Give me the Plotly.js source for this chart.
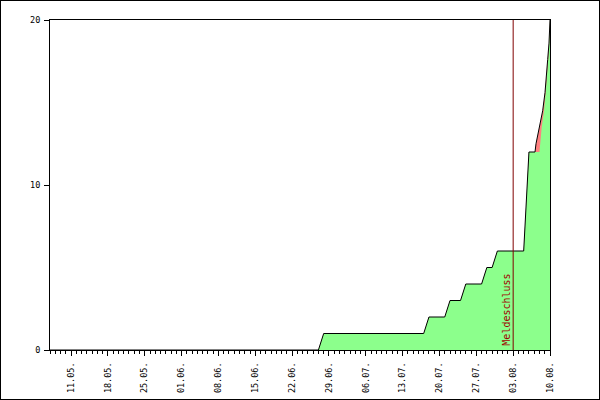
<!DOCTYPE html>
<html>
<head>
<meta charset="utf-8">
<script src="https://cdn.plot.ly/plotly-3.0.1.min.js"></script>
<style>
  html, body { margin: 0; padding: 0; background: #fff; }
  #chart { width: 600px; height: 400px; box-sizing: border-box; border: 1px solid #000; }
</style>
</head>
<body>
<div id="chart"></div>
<script>
// Registrations (cumulative) - total (incl. unpaid) and green subset
const greenDates = [
  '2024-05-07', '2024-06-27', '2024-06-28', '2024-07-17', '2024-07-18',
  '2024-07-21', '2024-07-22', '2024-07-24', '2024-07-25', '2024-07-28',
  '2024-07-29', '2024-07-30', '2024-07-31', '2024-08-05', '2024-08-06',
  '2024-08-08 00:00', '2024-08-08 10:05', '2024-08-08 20:38', '2024-08-09 04:19',
  '2024-08-09 11:17', '2024-08-09 15:50', '2024-08-09 20:24', '2024-08-09 23:02',
  '2024-08-10 00:00'
];
const greenValues = [
  0, 0, 1, 1, 2,
  2, 3, 3, 4, 4,
  5, 5, 6, 6, 12,
  12, 13.5, 14.5, 15.6,
  16.6, 17.6, 18.6, 19.6,
  20
];
const totalDates = [
  '2024-05-07', '2024-06-27', '2024-06-28', '2024-07-17', '2024-07-18',
  '2024-07-21', '2024-07-22', '2024-07-24', '2024-07-25', '2024-07-28',
  '2024-07-29', '2024-07-30', '2024-07-31', '2024-08-05', '2024-08-06',
  '2024-08-07 03:36', '2024-08-07 08:10', '2024-08-07 23:17', '2024-08-08 14:38',
  '2024-08-09 01:12', '2024-08-09 08:53', '2024-08-09 13:26', '2024-08-09 19:26',
  '2024-08-09 22:34', '2024-08-10 00:00'
];
const totalValues = [
  0, 0, 1, 1, 2,
  2, 3, 3, 4, 4,
  5, 5, 6, 6, 12,
  12, 12.5, 13.5, 14.5,
  15.6, 16.6, 17.6, 18.6,
  19.6, 20
];
const deadlineDate = '2024-08-03';
const deadlineLabel = 'Meldeschluss';
const xRange = ['2024-05-07', '2024-08-10'];
const firstTick = '2024-05-11';
const yTicks = [0, 10, 20];

const mono = 'DejaVu Sans Mono, monospace';
const DAY = 86400000;

const traces = [
  { x: totalDates, y: totalValues, type: 'scatter', mode: 'lines',
    fill: 'tozeroy', fillcolor: '#ff8080', line: { width: 0 }, hoverinfo: 'skip' },
  { x: greenDates, y: greenValues, type: 'scatter', mode: 'lines',
    fill: 'tozeroy', fillcolor: '#8cff8c', line: { width: 0 }, hoverinfo: 'skip' },
  { x: totalDates, y: totalValues, type: 'scatter', mode: 'lines',
    line: { color: '#000', width: 1 }, hoverinfo: 'skip' }
];

const layout = {
  width: 598, height: 398,
  margin: { l: 49, r: 49, t: 19, b: 49, pad: 0 },
  paper_bgcolor: '#fff', plot_bgcolor: '#fff',
  showlegend: false,
  font: { family: mono, size: 8, color: '#000' },
  xaxis: {
    type: 'date', range: xRange,
    tick0: firstTick, dtick: 7 * DAY, tickformat: '%d.%m.',
    tickangle: -90, ticks: 'outside', ticklen: 5, tickcolor: '#000', tickwidth: 1,
    ticklabelstandoff: 3,
    minor: { ticks: 'outside', ticklen: 3, dtick: DAY, tick0: xRange[0], tickcolor: '#000', showgrid: false },
    showgrid: false, zeroline: false,
    showline: true, linecolor: '#000', linewidth: 1, mirror: true,
    tickfont: { family: mono, size: 8.5, color: '#000' }
  },
  yaxis: {
    range: [0, 20], tickvals: yTicks, ticktext: yTicks.map(String),
    ticks: 'outside', ticklen: 5, tickcolor: '#000',
    ticklabelstandoff: 2,
    showgrid: false, zeroline: false,
    showline: true, linecolor: '#000', linewidth: 1, mirror: true,
    tickfont: { family: mono, size: 8.5, color: '#000' }
  },
  shapes: [
    { type: 'line', xref: 'x', yref: 'paper', x0: deadlineDate, x1: deadlineDate, y0: 0, y1: 1,
      line: { color: '#800000', width: 1 } }
  ],
  annotations: [
    { x: deadlineDate, y: 0, xref: 'x', yref: 'y', text: deadlineLabel, showarrow: false,
      textangle: -90, xanchor: 'right', yanchor: 'bottom', xshift: 0, yshift: 2,
      font: { family: mono, size: 10, color: '#a00000' } }
  ]
};

Plotly.newPlot('chart', traces, layout, { staticPlot: true, displayModeBar: false });
</script>
</body>
</html>
